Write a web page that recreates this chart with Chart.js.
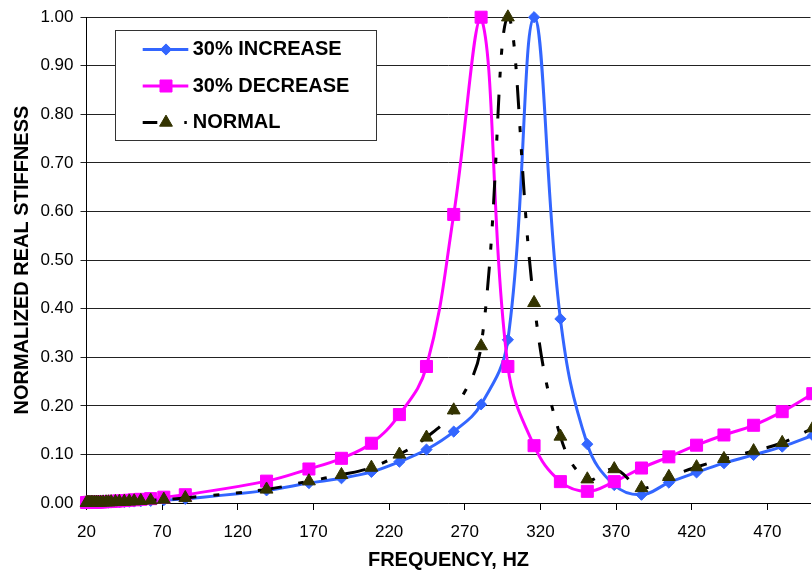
<!DOCTYPE html>
<html>
<head>
<meta charset="utf-8">
<script src="https://cdn.jsdelivr.net/npm/chart.js@4.4.1/dist/chart.umd.min.js"></script>
<style>
  html, body { margin: 0; padding: 0; background: #ffffff; overflow: hidden; }
  #wrap { position: relative; width: 820px; height: 571px; }
</style>
</head>
<body>
<div id="wrap"><canvas id="chart" width="820" height="571"></canvas></div>
<script>
// Excitation frequencies (Hz)
const frequencies = [
  20, 20.7, 21.5, 22.3, 23.2, 24.2, 25.3, 26.5, 27.8, 29.3, 31, 32.9, 34.5, 36.3,
  39.1, 41.7, 45, 48.3, 51.5, 55.9, 62.4, 71.1, 85.3,
  139, 167, 188.5, 208.3, 226.8, 244.7, 262.7, 280.8, 298.5, 315.8, 333.2, 351,
  368.8, 386.8, 404.9, 423.2, 441.3, 460.9, 479.8, 500
];

// Normalized real stiffness, stiffness raised 30%
const increase30 = [
  0.0005, 0.0005, 0.0006, 0.0006, 0.0007, 0.0007, 0.0008, 0.0009, 0.0010, 0.0011, 0.0012, 0.0013, 0.0014, 0.0016,
  0.0018, 0.0021, 0.0024, 0.0027, 0.0031, 0.0037, 0.0044, 0.0058, 0.0085,
  0.026, 0.041, 0.051, 0.064, 0.085, 0.110, 0.147, 0.203, 0.336, 1.000, 0.379, 0.121,
  0.037, 0.017, 0.042, 0.063, 0.082, 0.099, 0.116, 0.139
];

// Normalized real stiffness, stiffness lowered 30%
const decrease30 = [
  0.0010, 0.0010, 0.0012, 0.0013, 0.0014, 0.0015, 0.0017, 0.0018, 0.0020, 0.0022, 0.0025, 0.0028, 0.0030, 0.0033,
  0.0038, 0.0043, 0.0050, 0.0057, 0.0065, 0.0076, 0.0090, 0.0120, 0.0170,
  0.045, 0.070, 0.092, 0.123, 0.182, 0.281, 0.594, 1.000, 0.281, 0.118, 0.044, 0.024,
  0.044, 0.072, 0.095, 0.119, 0.140, 0.160, 0.188, 0.225
];

// Normalized real stiffness, nominal stiffness
const normal = [
  0.0006, 0.0006, 0.0007, 0.0008, 0.0008, 0.0009, 0.0010, 0.0011, 0.0012, 0.0013, 0.0015, 0.0017, 0.0018, 0.0020,
  0.0023, 0.0026, 0.0030, 0.0034, 0.0039, 0.0046, 0.0055, 0.0072, 0.0105,
  0.028, 0.045, 0.058, 0.073, 0.100, 0.135, 0.191, 0.323, 1.000, 0.412, 0.137, 0.049,
  0.070, 0.031, 0.054, 0.074, 0.091, 0.107, 0.124, 0.154
];

const xTickValues = [20, 70, 120, 170, 220, 270, 320, 370, 420, 470];
const yTickValues = [0, 0.1, 0.2, 0.3, 0.4, 0.5, 0.6, 0.7, 0.8, 0.9, 1.0];

const FONT = "'Liberation Sans', Arial, Helvetica, sans-serif";
const BLUE = '#3366FF';
const MAGENTA = '#FF00FF';
const OLIVE = '#333300';

Chart.defaults.font.family = FONT;
Chart.defaults.color = '#000000';

const toPoints = (ys) => frequencies.map((f, i) => ({ x: f, y: ys[i] }));

const series = [
  { label: '30% INCREASE', values: increase30, color: BLUE, marker: 'rectRot' },
  { label: '30% DECREASE', values: decrease30, color: MAGENTA, marker: 'rect' },
  { label: 'NORMAL', values: normal, color: OLIVE, marker: 'triangle' }
];

// Boxed legend drawn inside the plot, upper left
const boxLegend = {
  id: 'boxLegend',
  afterDraw(chart) {
    const ctx = chart.ctx;
    ctx.save();
    ctx.fillStyle = '#ffffff';
    ctx.fillRect(115, 30, 261, 110);
    ctx.strokeStyle = '#333333';
    ctx.lineWidth = 1;
    ctx.strokeRect(115.5, 30.5, 261, 110);

    const rows = [49.5, 86, 122.5];
    const x0 = 142.7, x1 = 188.3, mx = 166;
    chart.data.datasets.forEach((ds, i) => {
      const y = rows[i];
      // sample line
      ctx.save();
      ctx.lineWidth = 3;
      ctx.lineCap = 'butt';
      ctx.strokeStyle = ds.borderColor;
      if (i === 2) ctx.setLineDash([14.6, 27, 2.5, 10]);
      ctx.beginPath();
      ctx.moveTo(x0, y);
      ctx.lineTo(x1, y);
      ctx.stroke();
      ctx.restore();
      // sample marker
      ctx.save();
      ctx.fillStyle = ds.pointBackgroundColor;
      ctx.strokeStyle = ds.pointBorderColor;
      ctx.lineWidth = 1;
      Chart.helpers.drawPoint(ctx, { pointStyle: ds.pointStyle, radius: ds.pointRadius, borderWidth: 1 }, mx, y);
      ctx.restore();
    });

    ctx.fillStyle = '#000000';
    ctx.font = 'bold 20px ' + FONT;
    ctx.textAlign = 'left';
    ctx.textBaseline = 'middle';
    chart.data.datasets.forEach((ds, i) => {
      ctx.fillText(ds.label, 192.7, rows[i]);
    });
    ctx.restore();
  }
};

const datasets = series.map((s, i) => ({
  label: s.label,
  data: toPoints(s.values),
  borderColor: i === 2 ? '#000000' : s.color,
  backgroundColor: s.color,
  borderWidth: 3,
  borderDash: i === 2 ? [24, 17, 6, 17, 6, 16] : [],
  borderCapStyle: 'butt',
  tension: 0.4,
  pointStyle: s.marker,
  pointRadius: s.marker === 'rect' ? 8.5 : (s.marker === 'triangle' ? 7.4 : 5.6),
  pointBackgroundColor: s.color,
  pointBorderColor: s.color,
  pointBorderWidth: 1,
  clip: false,
  order: 3 - i
}));

new Chart(document.getElementById('chart'), {
  type: 'line',
  data: { datasets },
  options: {
    responsive: false,
    animation: false,
    devicePixelRatio: 1,
    events: [],
    layout: { padding: { left: 0, right: 1, top: 15, bottom: 0 } },
    plugins: {
      legend: { display: false },
      tooltip: { enabled: false }
    },
    scales: {
      x: {
        type: 'linear',
        min: 20,
        max: 498.5,
        afterBuildTicks: (scale) => { scale.ticks = xTickValues.map(v => ({ value: v })); },
        afterFit: (scale) => { scale.height = 68; },
        ticks: {
          autoSkip: false,
          maxRotation: 0,
          padding: 12,
          color: '#000000',
          font: { size: 17, family: FONT },
          callback: (v) => String(v)
        },
        grid: { drawOnChartArea: false, drawTicks: true, tickLength: 7, color: '#000000', lineWidth: 1 },
        border: { display: true, color: '#000000', width: 1 },
        title: {
          display: true,
          text: 'FREQUENCY, HZ',
          color: '#000000',
          font: { size: 20, weight: 'bold', family: FONT, lineHeight: 1 },
          padding: { top: 0, bottom: 1 }
        }
      },
      y: {
        type: 'linear',
        min: 0,
        max: 1,
        afterBuildTicks: (scale) => { scale.ticks = yTickValues.map(v => ({ value: v })); },
        afterFit: (scale) => { scale.width = 86.5; },
        ticks: {
          padding: 7,
          color: '#000000',
          font: { size: 17, family: FONT },
          callback: (v) => Number(v).toFixed(2)
        },
        grid: { drawOnChartArea: true, drawTicks: true, tickLength: 6, color: '#222222', lineWidth: 1 },
        border: { display: true, color: '#000000', width: 1 },
        title: {
          display: true,
          text: 'NORMALIZED REAL STIFFNESS',
          color: '#000000',
          font: { size: 20, weight: 'bold', family: FONT, lineHeight: 1 },
          padding: { top: 12, bottom: 0 }
        }
      }
    }
  },
  plugins: [boxLegend]
});
</script>
</body>
</html>
